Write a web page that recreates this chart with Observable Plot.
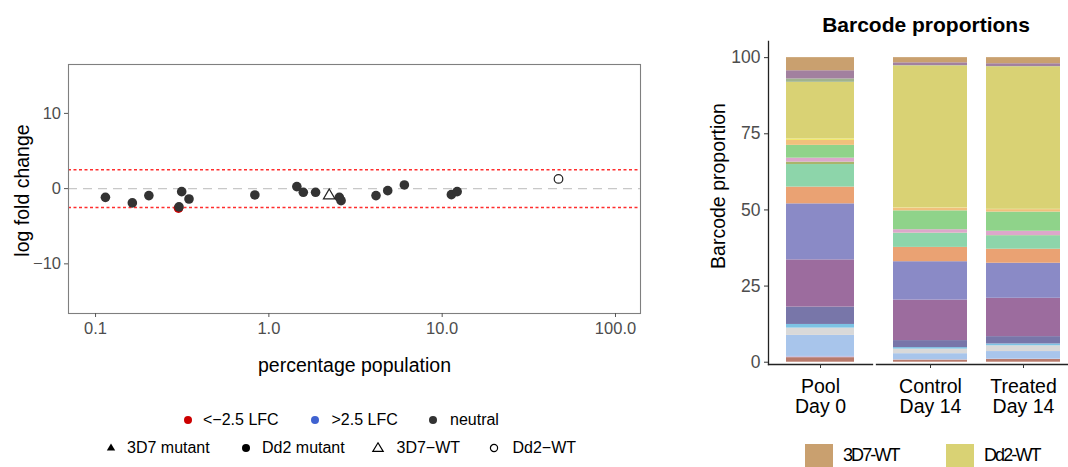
<!DOCTYPE html>
<html><head><meta charset="utf-8">
<script src="https://cdn.jsdelivr.net/npm/d3@7"></script>
<script src="https://cdn.jsdelivr.net/npm/@observablehq/plot@0.6"></script>
<style>
body{margin:0;width:1068px;height:467px;overflow:hidden;background:#fff;font-family:"Liberation Sans",Arial,sans-serif;position:relative}
.abs{position:absolute}
.leg{position:absolute;font-size:16px;line-height:20px;height:20px;white-space:nowrap;color:#000}
.sym{position:absolute;width:14px;height:14px}
</style></head><body>
<div id="left" class="abs" style="left:0;top:0"></div>
<div id="r1" class="abs" style="left:690px;top:0"></div>
<div id="r2" class="abs" style="left:876px;top:0"></div>
<div id="title" class="abs" style="left:776px;width:300px;top:13px;text-align:center;font-weight:bold;font-size:21px;line-height:24px">Barcode proportions</div>
<div id="legends"></div>
<script>
// ---------- scatter data ----------
const pctPopulation = [0.114, 0.163, 0.203, 0.301, 0.303, 0.314, 0.346, 0.83, 1.45, 1.58, 1.86, 2.55, 2.61, 4.15, 4.85, 6.05, 11.3, 12.2, 2.23, 46.9];
const logFoldChange = [-1.16, -1.9, -0.93, -2.6, -2.42, -0.4, -1.38, -0.84, 0.27, -0.49, -0.49, -1.16, -1.6, -0.93, -0.27, 0.49, -0.8, -0.4, -0.93, 1.29];
const lfcClass = ["neutral","neutral","neutral","<−2.5 LFC","neutral","neutral","neutral","neutral","neutral","neutral","neutral","neutral","neutral","neutral","neutral","neutral","neutral","neutral","neutral","neutral"];
const strainType = ["Dd2 mutant","Dd2 mutant","Dd2 mutant","Dd2 mutant","Dd2 mutant","Dd2 mutant","Dd2 mutant","Dd2 mutant","Dd2 mutant","Dd2 mutant","Dd2 mutant","Dd2 mutant","Dd2 mutant","Dd2 mutant","Dd2 mutant","Dd2 mutant","Dd2 mutant","Dd2 mutant","3D7−WT","Dd2−WT"];
const lfcClasses = ["<−2.5 LFC", ">2.5 LFC", "neutral"];
const lfcClassColors = ["#cc0000", "#3f62d0", "#333333"];
const strainDomain = ["3D7 mutant", "Dd2 mutant", "3D7−WT", "Dd2−WT"];
const strainSymbols = ["triangle", "circle", "triangle", "circle"];
const openStrains = ["3D7−WT", "Dd2−WT"];
const lfcThresholds = [-2.5, 2.5];
const zeroLine = [0];
const xTicks = [0.1, 1, 10, 100];
const xTickLabels = ["0.1", "1.0", "10.0", "100.0"];
const yTicks = [-10, 0, 10];
const yTickLabels = ["−10", "0", "10"];

// ---------- barcode data (bottom to top) ----------
const barcodes = ["BC01","BC02","BC03","BC04","BC05","BC06","BC07","BC08","BC09","BC10","BC11","BC12","BC13","BC14","BC15","Dd2-WT","BC17","BC18","3D7-WT"];
const barcodeColors = ["#b87a6c","#c6c3e4","#a8c5eb","#d9d9d9","#7cc3e4","#7876a9","#9c6c9e","#8a8ac6","#eaa273","#8dd5aa","#a9b56b","#dca7cb","#8fd38a","#f0c07c","#f1e96c","#d9d274","#a0b38f","#a2809f","#c9a06f"];
const poolValues    = [1.5,0.4,6.9,2.4,1.2,5.7,15.5,18.4,5.5,7.4,0.8,1.3,4.2,1.6,0.5,18.6,1.1,2.7,4.3];
const controlValues = [0.7,0.1,2.0,1.5,0.5,2.3,13.3,12.6,4.7,4.6,0.1,1.1,6.2,0.9,0.1,46.6,0.1,0.9,1.7];
const treatedValues = [0.9,0.1,2.5,1.9,0.6,2.4,12.6,11.5,4.6,4.4,0.1,1.4,6.3,0.8,0.1,46.8,0.1,0.9,2.0];
const sampleLabels = ["Pool\nDay 0", "Control\nDay 14", "Treated\nDay 14"];
const proportionTicks = [0, 25, 50, 75, 100];
const legendBarcodes = ["3D7-WT", "Dd2-WT"];

const font = "Liberation Sans, Arial, sans-serif";

// ---------- left scatter ----------
const colorOf = Object.fromEntries(lfcClasses.map((c, i) => [c, lfcClassColors[i]]));
const pts = pctPopulation.map((x, i) => ({x, lfc: logFoldChange[i], cls: lfcClass[i], strain: strainType[i]}));
const sigPts = pts.filter(d => !openStrains.includes(d.strain) && d.cls !== "neutral");
const neutralPts = pts.filter(d => !openStrains.includes(d.strain) && d.cls === "neutral");
const openPts = pts.filter(d => openStrains.includes(d.strain));

const left = Plot.plot({
  width: 660, height: 390,
  marginLeft: 68, marginRight: 20, marginTop: 64, marginBottom: 77,
  style: {fontFamily: font, background: "white", overflow: "visible"},
  x: {type: "log", domain: [0.0698, 139.4]},
  y: {domain: [-16.6, 16.5]},
  color: {type: "identity"},
  symbol: {domain: strainDomain, range: strainSymbols},
  marks: [
    Plot.ruleY(zeroLine, {stroke: "#c8c8c8", strokeWidth: 1.4, strokeDasharray: "9,6"}),
    Plot.ruleY(lfcThresholds, {stroke: "#ff2e2e", strokeWidth: 1.4, strokeDasharray: "3,2.5"}),
    Plot.frame({stroke: "#7f7f7f", strokeWidth: 1.1}),
    Plot.axisX({ticks: xTicks, tickFormat: d => xTickLabels[xTicks.indexOf(d)], tickSize: 4, tickPadding: 5, fontSize: 16.5, fill: "#4d4d4d", stroke: "#555", label: null}),
    Plot.axisY({ticks: yTicks, tickFormat: d => yTickLabels[yTicks.indexOf(d)], tickSize: 4, tickPadding: 3.5, fontSize: 16.5, fill: "#4d4d4d", stroke: "#555", label: null}),
    Plot.text(["percentage population"], {frameAnchor: "bottom", lineAnchor: "middle", textAnchor: "middle", dy: 52, fontSize: 19.5, fill: "#000"}),
    Plot.text(["log fold change"], {frameAnchor: "left", textAnchor: "middle", lineAnchor: "middle", rotate: -90, dx: -46, dy: 1.5, fontSize: 19.5, fill: "#000"}),
    Plot.dot(sigPts, {x: "x", y: "lfc", r: 4.8, fill: d => colorOf[d.cls], stroke: "none", symbol: "strain"}),
    Plot.dot(neutralPts, {x: "x", y: "lfc", r: 4.8, fill: d => colorOf[d.cls], stroke: "none", symbol: "strain"}),
    Plot.dot(openPts, {x: "x", y: "lfc", r: 4.3, fill: "none", stroke: "#222", strokeWidth: 1.2, symbol: "strain"})
  ]
});
document.getElementById("left").append(left);

// ---------- right stacked bars ----------
const proportions = [poolValues, controlValues, treatedValues];
const rows = sampleLabels.flatMap((s, j) => barcodes.map((b, i) => ({sample: s, barcode: b, value: proportions[j][i]})));
const yDomain = [-0.75, 105.3];

const r1 = Plot.plot({
  width: 182, height: 420,
  marginLeft: 78, marginRight: 0, marginTop: 41, marginBottom: 56,
  style: {fontFamily: font, background: "transparent", overflow: "visible"},
  x: {domain: [sampleLabels[0]], padding: 0.2093},
  y: {domain: yDomain},
  color: {domain: barcodes, range: barcodeColors},
  marks: [
    Plot.barY(rows.filter(d => d.sample === sampleLabels[0]), {x: "sample", y: "value", fill: "barcode"}),
    Plot.frame({anchor: "left", stroke: "#222", strokeWidth: 1.3}),
    Plot.frame({anchor: "bottom", stroke: "#222", strokeWidth: 1.3}),
    Plot.axisY({ticks: proportionTicks, tickSize: 4, tickPadding: 4, fontSize: 17.5, fill: "#4d4d4d", stroke: "#333", label: null}),
    Plot.axisX({tickSize: 4, tickPadding: 10, fontSize: 19.5, fill: "#000", stroke: "#333", label: null, lineHeight: 1.03}),
    Plot.text(["Barcode proportion"], {frameAnchor: "left", textAnchor: "middle", lineAnchor: "middle", rotate: -90, dx: -50, dy: -17, fontSize: 19.5, fill: "#000"})
  ]
});
document.getElementById("r1").append(r1);

const r2 = Plot.plot({
  width: 192, height: 420,
  marginLeft: 0, marginRight: 0, marginTop: 41, marginBottom: 56,
  style: {fontFamily: font, background: "transparent", overflow: "visible"},
  x: {domain: sampleLabels.slice(1), paddingInner: 0.202, paddingOuter: 0.1223, align: 0.7},
  y: {domain: yDomain, axis: null},
  color: {domain: barcodes, range: barcodeColors},
  marks: [
    Plot.barY(rows.filter(d => d.sample !== sampleLabels[0]), {x: "sample", y: "value", fill: "barcode"}),
    Plot.frame({anchor: "bottom", stroke: "#222", strokeWidth: 1.3}),
    Plot.axisX({tickSize: 4, tickPadding: 10, fontSize: 19.5, fill: "#000", stroke: "#333", label: null, lineHeight: 1.03})
  ]
});
document.getElementById("r2").append(r2);

// ---------- legends ----------
const L = document.getElementById("legends");
function symSvg(cx, cy, kind, color) {
  const NS = "http://www.w3.org/2000/svg";
  const s = document.createElementNS(NS, "svg");
  s.setAttribute("class", "sym");
  s.setAttribute("width", 14); s.setAttribute("height", 14);
  s.style.left = (cx - 7) + "px"; s.style.top = (cy - 7) + "px";
  let el;
  if (kind === "dot" || kind === "ring") {
    el = document.createElementNS(NS, "circle");
    el.setAttribute("cx", 7); el.setAttribute("cy", 7);
    el.setAttribute("r", kind === "dot" ? 4 : 3.6);
  } else {
    el = document.createElementNS(NS, "path");
    el.setAttribute("d", kind === "tri" ? "M7,2.6L11.2,9.6H2.8Z" : "M7,1.8L12.2,10.4H1.8Z");
  }
  if (kind === "ring" || kind === "otri") { el.setAttribute("fill", "none"); el.setAttribute("stroke", color); el.setAttribute("stroke-width", 1.2); }
  else el.setAttribute("fill", color);
  s.append(el);
  L.append(s);
}
function label(x, cy, text) {
  const d = document.createElement("div");
  d.className = "leg"; d.style.left = x + "px"; d.style.top = (cy - 10) + "px";
  d.textContent = text; L.append(d);
}
const row1 = [[187.7, 203], [315, 331.5], [432.7, 450]];
lfcClasses.forEach((c, i) => { symSvg(row1[i][0], 420, "dot", lfcClassColors[i]); label(row1[i][1], 420, c); });
const row2 = [[110.5, 127, "tri"], [246, 262, "dot"], [378, 396.5, "otri"], [494, 512.5, "ring"]];
strainDomain.forEach((c, i) => { symSvg(row2[i][0], 448, row2[i][2], "#000"); label(row2[i][1], 448, c); });

const swX = [[805, 843], [946, 984]];
legendBarcodes.forEach((b, i) => {
  const sw = document.createElement("div");
  sw.className = "abs";
  Object.assign(sw.style, {left: swX[i][0] + "px", top: "444px", width: "28px", height: "28px", background: barcodeColors[barcodes.indexOf(b)]});
  L.append(sw);
  const t = document.createElement("div");
  t.className = "abs";
  Object.assign(t.style, {left: swX[i][1] + "px", top: "444px", fontSize: "18px", lineHeight: "22px", letterSpacing: "-1.9px", color: "#000"});
  t.textContent = b;
  L.append(t);
});
</script>
</body></html>
